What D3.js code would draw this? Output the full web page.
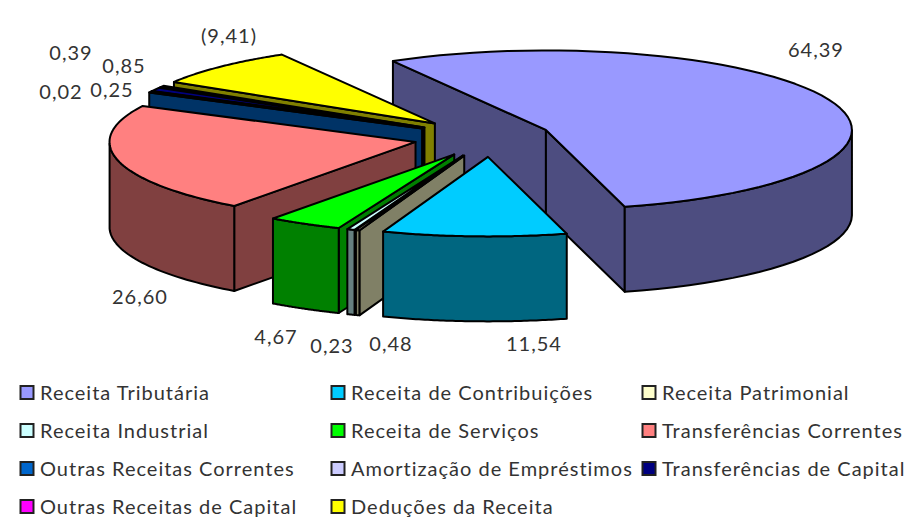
<!DOCTYPE html>
<html>
<head>
<meta charset="utf-8">
<script src="https://cdn.jsdelivr.net/npm/d3@7"></script>
<style>
  body {margin: 0; background: #fff;}
  text {font-family: Lato, sans-serif; font-size: 20px; fill: #333; letter-spacing: 1px;}
</style>
</head>
<body>
<svg width="908" height="517"></svg>
<script>
var categories = ['Receita Tributária', 'Receita de Contribuições', 'Receita Patrimonial',
  'Receita Industrial', 'Receita de Serviços', 'Transferências Correntes',
  'Outras Receitas Correntes', 'Amortização de Empréstimos', 'Transferências de Capital',
  'Outras Receitas de Capital', 'Deduções da Receita']
var values = [64.39, 11.54, 0.23, 0.48, 4.67, 26.60, 0.25, 0.02, 0.85, 0.39, -9.41]
var colors = ['#9999ff', '#00ccff', '#ffffcc', '#ccffff', '#00ff00', '#ff8080',
  '#0066cc', '#ccccff', '#000080', '#ff00ff', '#ffff00']

// how far each slice was dragged out of the pie, in px
var explodeX = [59, 78, 78, 78, 76, 78, 78, 78, 78, 78, 81]
var explodeY = 19.5
// back to front
var paintOrder = [0, 10, 9, 8, 7, 6, 5, 4, 3, 2, 1]
// label anchors, same order as values
var labelPos = [[816, 50], [534, 344], [332, 346], [391, 344], [276, 337], [140, 297],
  [112, 90], [61, 92], [124, 66], [71, 53], [229, 36]]

var cx = 491.4, cy = 137.4, rx = 306, ry = 79.5, depth = 85

var svg = d3.select('svg')
var fmt = d3.formatLocale({decimal: ',', thousands: '.', grouping: [3], currency: ['R$', '']}).format('(.2f')

var pie = d3.pie().sort(null).value(d => Math.abs(d))
  .startAngle(-30*Math.PI/180).endAngle(330*Math.PI/180)
var arcs = pie(values)

var line = d3.line()

function sliceParts(d){
  var mid = (d.startAngle + d.endAngle)/2
  var ox = cx + Math.sin(mid)*explodeX[d.index]
  var oy = cy - Math.cos(mid)*explodeY
  var pt = (a, z) => [ox + rx*Math.sin(a), oy - ry*Math.cos(a) + (z || 0)]
  var angles = d3.range(0, 1.0001, 1/60).map(t => d.startAngle + t*(d.endAngle - d.startAngle))
  var top = [[ox, oy]].concat(angles.map(a => pt(a)))

  var walls = []
  // radial walls, only the ones turned to the viewer
  if (Math.sin(d.startAngle) < 0) walls.push([[ox, oy], pt(d.startAngle), pt(d.startAngle, depth), [ox, oy + depth]])
  if (Math.sin(d.endAngle) > 0) walls.push([[ox, oy], pt(d.endAngle), pt(d.endAngle, depth), [ox, oy + depth]])
  // outer rim, front half only
  var front = angles.filter(a => Math.cos(a) <= 0)
  if (front.length > 1) walls.push(front.map(a => pt(a)).concat(front.slice().reverse().map(a => pt(a, depth))))

  return {top, walls}
}

var sliceSel = svg.append('g').selectAll('g')
  .data(paintOrder.map(i => arcs[i]))
  .join('g')
  .attr('stroke', '#000')
  .attr('stroke-width', 2)
  .attr('stroke-linejoin', 'round')

sliceSel.each(function(d){
  var sel = d3.select(this)
  var parts = sliceParts(d)
  var c = d3.color(colors[d.index])
  var dark = d3.rgb(c.r/2, c.g/2, c.b/2)
  parts.walls.forEach(w => sel.append('path').attr('d', line(w) + 'Z').attr('fill', dark))
  sel.append('path').attr('d', line(parts.top) + 'Z').attr('fill', colors[d.index])
})

svg.append('g').selectAll('text')
  .data(values)
  .join('text')
  .attr('text-anchor', 'middle')
  .attr('x', (d, i) => labelPos[i][0])
  .attr('y', (d, i) => labelPos[i][1] + 7)
  .text(d => fmt(d))

// legend
var colX = d3.scalePoint().domain([0, 1, 2]).range([20, 642])
var rowY = d3.scalePoint().domain([0, 1, 2, 3]).range([393, 507])

var legendSel = svg.append('g').selectAll('g')
  .data(categories)
  .join('g')
  .attr('transform', (d, i) => `translate(${colX(i%3)},${rowY(Math.floor(i/3))})`)

legendSel.append('rect')
  .attr('x', .5).attr('y', -7)
  .attr('width', 13).attr('height', 13)
  .attr('fill', (d, i) => colors[i])
  .attr('stroke', '#222')
  .attr('stroke-width', 2)

legendSel.append('text')
  .attr('x', 20).attr('y', 6.5)
  .text(d => d)
</script>
</body>
</html>
